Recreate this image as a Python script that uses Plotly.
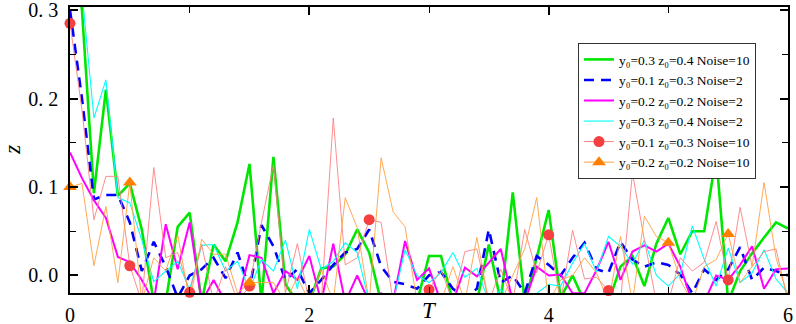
import plotly.graph_objects as go

T = [round(i * 0.1, 1) for i in range(61)]

green = [0.40, 0.30, 0.093, 0.21, 0.09, 0.104, 0.052, -0.03, -0.03, 0.055,
         0.071, -0.03, 0.035, 0.016, 0.06, 0.126, -0.03, 0.134, -0.01, -0.03,
         -0.03, 0.008, 0.01, 0.024, 0.052, 0.026, -0.03, -0.03, -0.03, -0.03,
         0.022, 0.022, -0.03, -0.03, -0.03, 0.035, -0.03, 0.094, -0.03, 0.02,
         0.074, -0.025, 0.0, -0.03, -0.03, -0.03, 0.01, 0.022, -0.012, 0.036,
         0.065, 0.024, 0.05, 0.05, 0.136, -0.03, 0.005, 0.025, 0.043, 0.06,
         0.053]
blue = [0.30, 0.20, 0.086, 0.091, 0.091, 0.06, 0.005, 0.038, 0.01, -0.025,
        0.0, 0.007, 0.02, -0.003, 0.026, -0.015, 0.057, 0.033, -0.005, 0.007,
        -0.02, -0.005, 0.012, 0.026, 0.03, 0.052, 0.01, -0.007, -0.01, -0.015,
        0.0, 0.004, -0.015, -0.025, -0.015, 0.052, -0.008, 0.0, -0.02, 0.022,
        0.012, 0.0, 0.02, 0.037, 0.007, 0.003, 0.038, 0.018, 0.01, 0.015,
        0.012, 0.001, -0.02, 0.007, -0.005, 0.007, 0.032, -0.005, 0.009, 0.005,
        0.0]
magenta = [0.139, 0.11, 0.085, 0.065, 0.021, 0.015, -0.005, -0.03, 0.058, 0.007,
           0.06, -0.03, -0.005, -0.03, -0.03, 0.023, 0.02, -0.02, 0.005, -0.005,
           0.022, -0.03, 0.036, -0.03, 0.0, -0.03, -0.02, -0.03, 0.039, -0.005,
           0.008, -0.03, -0.03, 0.009, -0.001, 0.015, 0.03, -0.03, -0.03, 0.01,
           0.0, 0.001, -0.02, -0.02, 0.006, 0.038, -0.005, 0.027, 0.034, 0.027,
           0.036, 0.01, -0.03, -0.03, 0.0, -0.005, 0.012, 0.033, -0.015, 0.007,
           0.008]
cyan = [0.40, 0.32, 0.178, 0.221, 0.088, 0.082, 0.04, -0.007, 0.005, 0.016,
        -0.016, 0.034, 0.035, 0.005, 0.016, -0.016, 0.018, 0.005, 0.04, -0.015,
        0.052, 0.007, 0.016, 0.037, 0.026, -0.03, -0.03, -0.03, 0.029, 0.0,
        -0.008, 0.003, 0.026, -0.002, 0.008, -0.03, -0.016, -0.03, -0.025, -0.02,
        -0.01, -0.012, 0.014, 0.036, 0.004, 0.044, 0.033, 0.013, 0.04, 0.0,
        -0.012, 0.002, 0.056, 0.018, -0.012, 0.031, -0.008, 0.003, 0.029, -0.004,
        -0.02]
red = [0.285, 0.187, 0.063, 0.112, 0.112, 0.011, -0.03, 0.122, 0.02, 0.026,
       -0.019, 0.035, -0.03, 0.01, -0.03, -0.012, 0.06, 0.125, -0.02, 0.036,
       -0.03, -0.03, 0.178, 0.012, 0.02, 0.063, 0.06, -0.03, -0.03, -0.03,
       -0.016, 0.007, -0.03, 0.027, 0.03, -0.03, 0.007, -0.03, 0.052, 0.003,
       0.046, -0.03, 0.051, -0.004, -0.002, -0.017, -0.03, 0.116, 0.04, -0.03,
       -0.03, 0.02, 0.005, 0.015, 0.061, -0.005, 0.077, 0.01, 0.027, 0.03,
       -0.03]
orange = [0.10, 0.104, 0.011, 0.078, -0.008, 0.105, -0.03, 0.02, 0.005, 0.046,
          -0.03, 0.041, 0.024, 0.024, -0.02, -0.008, -0.008, -0.008, -0.03, -0.002,
          -0.03, 0.007, -0.03, 0.088, 0.054, -0.03, 0.133, 0.072, 0.055, -0.03,
          -0.03, -0.03, 0.01, -0.03, 0.043, -0.03, -0.03, 0.0, 0.03, 0.088,
          -0.03, -0.005, 0.0, 0.02, 0.003, -0.03, 0.044, -0.03, 0.067, 0.044,
          0.037, -0.005, -0.03, 0.01, 0.018, 0.047, -0.008, 0.01, 0.105, 0.02,
          -0.024]

labels = ["y\u2080=0.3 z\u2080=0.4 Noise=10",
          "y\u2080=0.1 z\u2080=0.3 Noise=2",
          "y\u2080=0.2 z\u2080=0.2 Noise=2",
          "y\u2080=0.3 z\u2080=0.4 Noise=2",
          "y\u2080=0.1 z\u2080=0.3 Noise=10",
          "y\u2080=0.2 z\u2080=0.2 Noise=10"]

YMIN, YMAX = -0.0198, 0.3034
x_ticks = [0, 2, 4, 6]
y_ticks = [0.0, 0.1, 0.2, 0.3]
y_ticktext = ["0.\u00a00", "0.\u00a01", "0.\u00a02", "0.\u00a03"]

SERIF = "Liberation Serif"

styles = [
    dict(data=green, color="#00E600", width=2.6, dash="solid", marker=None),
    dict(data=blue, color="#0000FF", width=2.6, dash="10px,7px", marker=None),
    dict(data=magenta, color="#FF00FF", width=2.0, dash="solid", marker=None),
    dict(data=cyan, color="#00FFFF", width=1.1, dash="solid", marker=None),
    dict(data=red, color="#FF8080", width=0.9, dash="solid",
         marker=dict(symbol="circle", color="#F44040", size=11)),
    dict(data=orange, color="#FFA040", width=0.9, dash="solid",
         marker=dict(symbol="triangle-up", color="#FF8000", size=12)),
]

fig = go.Figure()
for st in styles:
    fig.add_trace(go.Scatter(x=T, y=st["data"], mode="lines",
                             line=dict(color=st["color"], width=st["width"], dash=st["dash"]),
                             showlegend=False, hoverinfo="skip"))
for st in styles:
    if st["marker"] is not None:
        idx = [i for i in range(0, 61, 5) if st["data"][i] >= -0.026]
        fig.add_trace(go.Scatter(x=[T[i] for i in idx], y=[st["data"][i] for i in idx],
                                 mode="markers", marker=st["marker"],
                                 cliponaxis=False, showlegend=False, hoverinfo="skip"))
for st, lab in zip(styles, labels):
    kw = dict(x=[None], y=[None], name=lab,
              line=dict(color=st["color"], width=max(st["width"], 1.0), dash=st["dash"]))
    if st["marker"] is not None:
        kw["mode"] = "lines+markers"
        kw["marker"] = st["marker"]
    else:
        kw["mode"] = "lines"
    fig.add_trace(go.Scatter(**kw))

axis_common = dict(showline=True, linecolor="black", linewidth=1.6, mirror="ticks",
                   ticks="inside", tickcolor="black", tickwidth=1.6, ticklen=8,
                   showgrid=False, zeroline=False, automargin=False,
                   ticklabeloverflow="allow",
                   tickfont=dict(family=SERIF, size=20, color="black"))

fig.update_xaxes(range=[0, 6], tickvals=x_ticks, ticktext=[str(v) for v in x_ticks],
                 minor=dict(tickvals=[1, 3, 5], ticks="inside", ticklen=6, tickcolor="black", tickwidth=1.4),
                 ticklabelstandoff=3, **axis_common)
fig.update_yaxes(range=[YMIN, YMAX], tickvals=y_ticks, ticktext=y_ticktext,
                 minor=dict(tickvals=[0.05, 0.15, 0.25], ticks="inside", ticklen=6, tickcolor="black", tickwidth=1.4),
                 ticklabelstandoff=6, **axis_common)

fig.add_annotation(x=3, y=-0.06, xref="x", yref="paper", text="<i>T</i>", showarrow=False,
                   font=dict(family=SERIF, size=23, color="black"), xanchor="center", yanchor="middle")
fig.add_annotation(x=-0.081, y=0.5, xref="paper", yref="paper", text="<i>z</i>", showarrow=False,
                   textangle=-90, font=dict(family=SERIF, size=23, color="black"),
                   xanchor="center", yanchor="middle")

fig.update_layout(width=796, height=324, margin=dict(l=70, r=8, t=7, b=31),
                  paper_bgcolor="white", plot_bgcolor="white",
                  legend=dict(x=0.7075, y=0.8737, xanchor="left", yanchor="top",
                              bordercolor="#333333", borderwidth=1, bgcolor="white",
                              font=dict(family=SERIF, size=13.5, color="black"),
                              tracegroupgap=0, itemwidth=30),
                  showlegend=True)

fig.write_html("out.html", config={"displayModeBar": False},
               post_script="document.body.style.margin='0';document.body.style.padding='0';")
